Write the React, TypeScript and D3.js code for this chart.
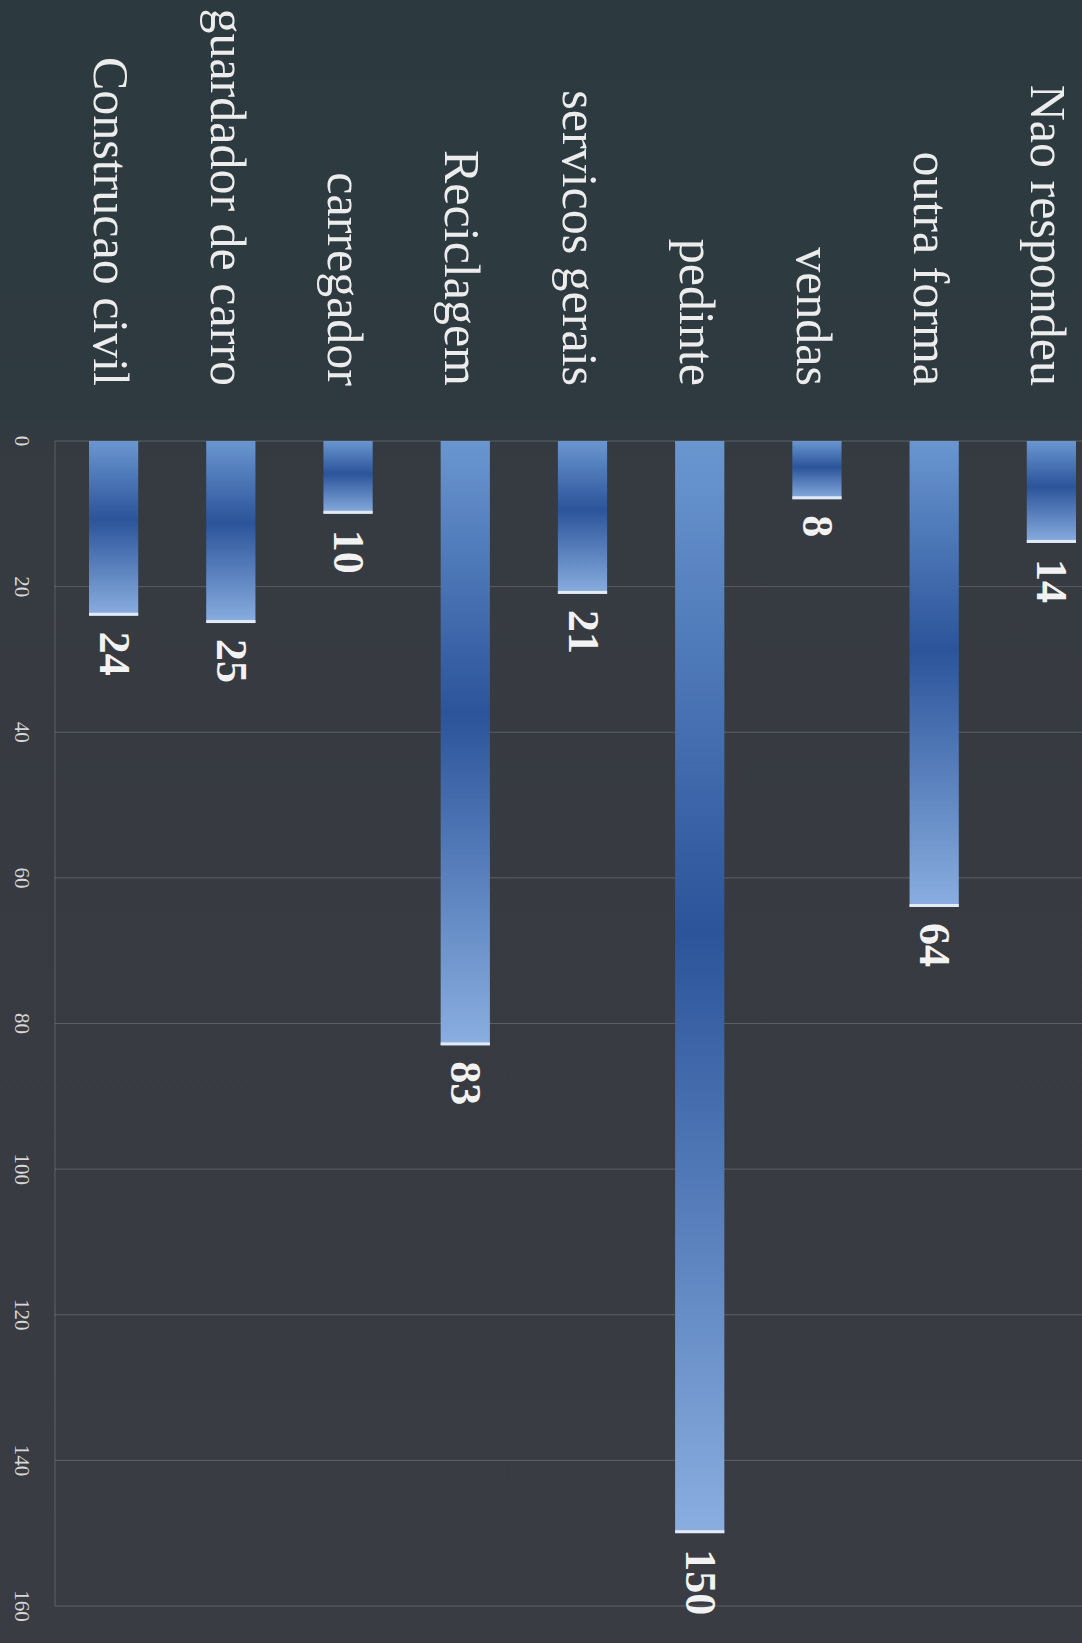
import React from 'react';
import * as d3 from 'd3';

// categories as printed, left to right on the page
const categories = [
  'Construcao civil',
  'guardador de carro',
  'carregador',
  'Reciclagem',
  'servicos gerais',
  'pedinte',
  'vendas',
  'outra forma',
  'Nao respondeu',
];
const values = [24, 25, 10, 83, 21, 150, 8, 64, 14];
const ticks = [0, 20, 40, 60, 80, 100, 120, 140, 160];

const W = 1082;
const H = 1643;

const App: React.FC = () => {
  const x = d3.scaleBand<string>()
    .domain(categories)
    .range([55, 1110])
    .paddingInner(0.58)
    .paddingOuter(0.29);
  const y = d3.scaleLinear().domain([0, 160]).range([441, 1606]);
  const bw = x.bandwidth();
  const left = 55;

  return (
    <svg width={W} height={H} style={{ position: 'absolute', top: 0, left: 0 }}>
      <defs>
        <linearGradient id="barGrad" x1="0" y1="0" x2="0" y2="1">
          <stop offset="0%" stopColor="#6a96d0" />
          <stop offset="45%" stopColor="#2b549a" />
          <stop offset="100%" stopColor="#8aaee0" />
        </linearGradient>
        <linearGradient id="bgGrad" x1="0" y1="0" x2="0" y2="1">
          <stop offset="0%" stopColor="#2c3a3f" />
          <stop offset="25%" stopColor="#2e3a40" />
          <stop offset="28%" stopColor="#363a41" />
          <stop offset="100%" stopColor="#393c42" />
        </linearGradient>
      </defs>
      <rect width={W} height={H} fill="url(#bgGrad)" />

      {/* grid + frame */}
      <g stroke="#c8c8cc" strokeOpacity={0.26} strokeWidth={1}>
        {ticks.map((t) => (
          <line key={t} x1={left} x2={W} y1={y(t)} y2={y(t)} />
        ))}
        <line x1={left} x2={left} y1={y(0)} y2={y(160)} />
      </g>

      {/* value axis labels */}
      <g fill="#d8d8d8" fontFamily="'Liberation Serif', serif" fontSize={21}>
        {ticks.map((t) => (
          <text key={t} transform={`translate(15,${y(t)}) rotate(90)`} textAnchor="middle">
            {t}
          </text>
        ))}
      </g>

      {/* bars */}
      {categories.map((c, i) => {
        const x0 = x(c)!;
        const y0 = y(0);
        const y1 = y(values[i]);
        const cx = x0 + bw / 2;
        return (
          <g key={c}>
            <rect x={x0} y={y0} width={bw} height={y1 - y0} fill="url(#barGrad)" />
            <rect x={x0} y={y1 - 3} width={bw} height={3} fill="#f2f4f8" opacity={0.85} />
            <text
              transform={`translate(${cx - 14},${y1 + 16}) rotate(90)`}
              fill="#f2f2f2"
              fontFamily="'Liberation Serif', serif"
              fontWeight="bold"
              fontSize={44}
            >
              {values[i]}
            </text>
            <text
              transform={`translate(${cx - 20},386) rotate(90)`}
              textAnchor="end"
              fill="#ececec"
              fontFamily="'Liberation Serif', serif"
              fontSize={50}
            >
              {c}
            </text>
          </g>
        );
      })}
    </svg>
  );
};

export default App;
